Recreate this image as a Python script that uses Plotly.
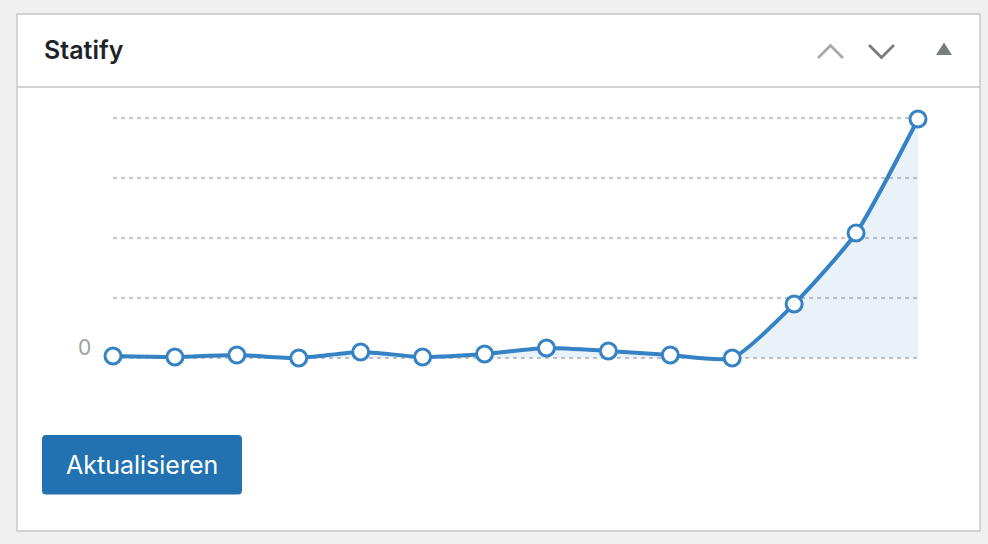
import plotly.graph_objects as go

W, H = 988, 544

# data (in grid units where one gridline = 60)
days = list(range(14))
visits = [2, 1, 3, 0, 6, 1, 4, 10, 7, 3, 0, 54, 125, 239]
y_tick_label = "0"
title_text = "Statify"
button_text = "Aktualisieren"

LINE = "#3582c4"
FILL = "rgba(53,130,196,0.11)"
FONT = "Inter, 'Noto Sans', sans-serif"


def px(x):
    return x / W


def py(y):
    return 1 - y / H


def path(points, close=False):
    s = ""
    for i, (x, y) in enumerate(points):
        s += ("M" if i == 0 else "L") + f"{px(x):.5f},{py(y):.5f} "
    if close:
        s += "Z"
    return s


def rounded_rect(x0, y0, x1, y1, r):
    P = lambda x, y: f"{px(x):.5f},{py(y):.5f}"
    return (f"M{P(x0 + r, y0)} L{P(x1 - r, y0)} Q{P(x1, y0)} {P(x1, y0 + r)} "
            f"L{P(x1, y1 - r)} Q{P(x1, y1)} {P(x1 - r, y1)} "
            f"L{P(x0 + r, y1)} Q{P(x0, y1)} {P(x0, y1 - r)} "
            f"L{P(x0, y0 + r)} Q{P(x0, y0)} {P(x0 + r, y0)} Z")


fig = go.Figure()
fig.add_trace(go.Scatter(
    x=days, y=visits, mode="lines+markers",
    line=dict(color=LINE, width=4, shape="spline", smoothing=0.6),
    fill="tozeroy", fillcolor=FILL,
    marker=dict(size=16, color="white", line=dict(color=LINE, width=3)),
    cliponaxis=False, hoverinfo="skip", showlegend=False,
))

shapes = [
    # panel
    dict(type="rect", xref="paper", yref="paper", x0=px(17), x1=px(980), y0=py(531), y1=py(14),
         fillcolor="white", line=dict(color="#c3c4c7", width=1.3), layer="below"),
    # header separator
    dict(type="line", xref="paper", yref="paper", x0=px(17), x1=px(980), y0=py(87), y1=py(87),
         line=dict(color="#c3c4c7", width=1.3), layer="below"),
    # chevron up
    dict(type="path", xref="paper", yref="paper", path=path([(818, 58), (830.5, 45.5), (843, 58)]),
         line=dict(color="#a7aaad", width=2.8)),
    # chevron down
    dict(type="path", xref="paper", yref="paper", path=path([(869, 45), (881.5, 57.5), (894, 45)]),
         line=dict(color="#787c82", width=2.8)),
    # triangle
    dict(type="path", xref="paper", yref="paper", path=path([(936, 55), (944, 42.5), (952, 55)], close=True),
         fillcolor="#787c82", line=dict(width=0)),
    # button
    dict(type="path", xref="paper", yref="paper", path=rounded_rect(42, 435, 242, 494.5, 4),
         fillcolor="#2271b1", line=dict(width=0)),
]

annotations = [
    dict(text=title_text, xref="paper", yref="paper", x=px(42), y=py(50),
         xanchor="left", yanchor="middle", showarrow=False,
         font=dict(family=FONT, size=25, weight=600, color="#1d2327")),
    dict(text=button_text, xref="paper", yref="paper", x=px(142), y=py(464.5),
         xanchor="center", yanchor="middle", showarrow=False,
         font=dict(family=FONT, size=25, color="white")),
    dict(text=y_tick_label, xref="paper", yref="paper", x=px(92.5), y=py(347),
         xanchor="right", yanchor="middle", showarrow=False,
         font=dict(family=FONT, size=21, color="#a0a0a0")),
]

fig.update_layout(
    width=W, height=H, margin=dict(l=0, r=0, t=0, b=0),
    paper_bgcolor="#f0f0f1", plot_bgcolor="rgba(0,0,0,0)",
    shapes=shapes, annotations=annotations,
    xaxis=dict(domain=[px(113), px(918)], range=[0, 13], showgrid=False,
               showticklabels=False, zeroline=False, showline=False, ticks=""),
    yaxis=dict(domain=[py(366), py(110)], range=[-8, 248], tick0=0, dtick=60,
               showgrid=True, gridcolor="#c3c4c7", gridwidth=1.5, griddash="4px,4px",
               showticklabels=False, zeroline=False, showline=False, ticks=""),
)

fig.write_html("out.html", config={"displayModeBar": False},
               post_script="document.body.style.margin='0';document.body.style.background='#f0f0f1';")
